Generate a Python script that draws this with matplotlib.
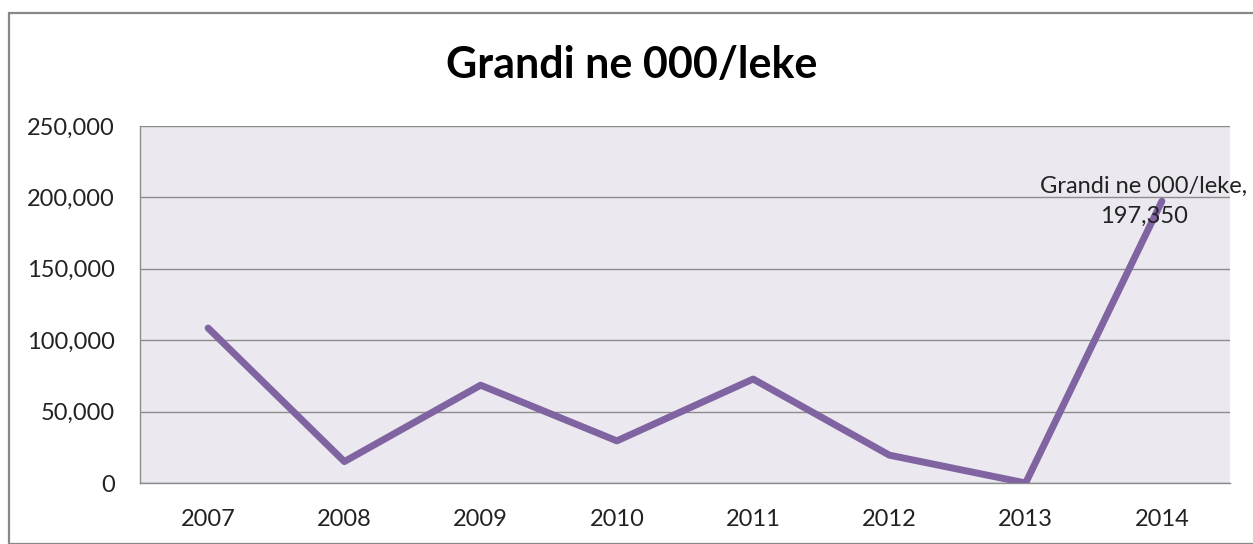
import matplotlib
matplotlib.use("Agg")
import matplotlib.pyplot as plt
from matplotlib.patches import Rectangle
from matplotlib.ticker import FuncFormatter

years = ["2007", "2008", "2009", "2010", "2011", "2012", "2013", "2014"]
values = [108500, 15000, 68500, 29500, 72800, 19500, 0, 197350]
yticks = [0, 50000, 100000, 150000, 200000, 250000]
title = "Grandi ne 000/leke"

plt.rcParams['font.family'] = ['Lato', 'DejaVu Sans']

fig = plt.figure(figsize=(12.53, 5.44), dpi=100)
ax = fig.add_axes([140/1253, 1 - 483/544, (1230-140)/1253, (483-126)/544])
ax.set_facecolor('#EBE8EF')

x = list(range(len(years)))
ax.plot(x, values, color='#8064A2', linewidth=5.0, solid_joinstyle='round',
        solid_capstyle='round', zorder=3)

ax.set_xlim(-0.5, len(years) - 0.5)
ax.set_ylim(0, 250000)
ax.set_yticks(yticks)
ax.yaxis.set_major_formatter(FuncFormatter(lambda v, p: f"{int(v):,}"))
ax.set_xticks(x)
ax.set_xticklabels(years)
ax.grid(axis='y', color='#8C8C8C', linewidth=1.0, zorder=1)
ax.set_axisbelow(True)
for s in ['top', 'right']:
    ax.spines[s].set_visible(False)
for s in ['left', 'bottom']:
    ax.spines[s].set_color('#8C8C8C')
    ax.spines[s].set_linewidth(1.0)
ax.tick_params(axis='both', length=0, labelsize=17, colors='#222222')
ax.tick_params(axis='y', pad=18)
ax.tick_params(axis='x', pad=19)

last = len(years) - 1
ax.annotate(f"{title},\n{values[last]:,}", xy=(last, values[last]),
            xytext=(-18, 0), textcoords='offset pixels',
            ha='center', va='center', multialignment='center', linespacing=1.5,
            fontsize=17, color='#222222', zorder=4, annotation_clip=False)

fig.text(632/1253, 1 - 65/544, title, ha='center', va='center',
         fontsize=31, fontweight='bold', color='black')

fig.patches.append(Rectangle((9/1253, 0), 1.2, 1 - 13/544, transform=fig.transFigure,
                             fill=False, edgecolor='#888888', linewidth=1.6,
                             clip_on=False))

fig.savefig("out.png", dpi=100)
